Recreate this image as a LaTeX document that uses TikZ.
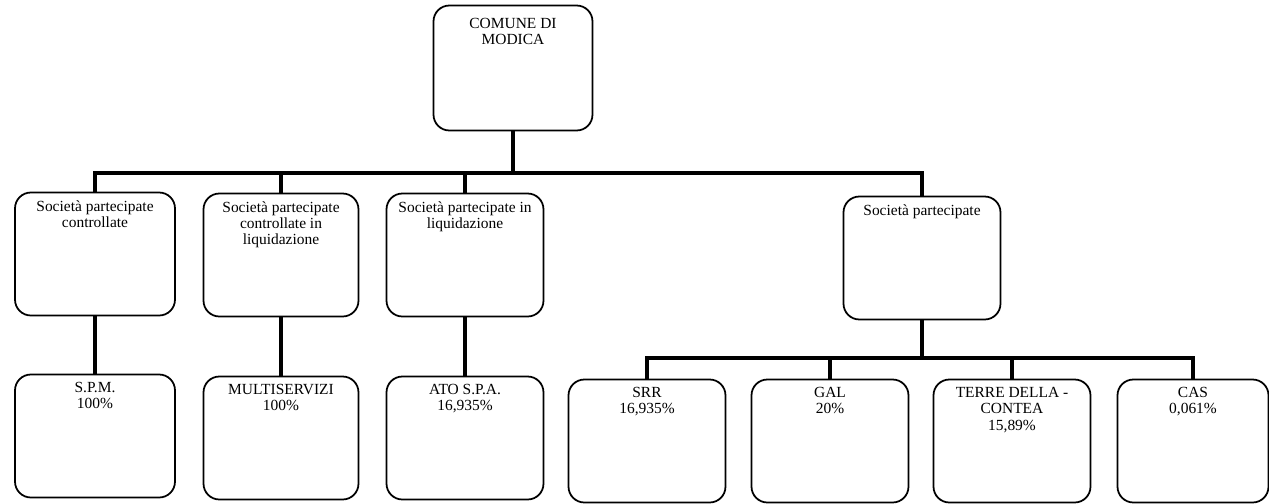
\documentclass[tikz,border=0pt]{standalone}
\usepackage{fontspec}
\setmainfont{Liberation Serif}
\begin{document}
\begin{tikzpicture}[x=0.02cm,y=-0.02cm]
\tikzset{
    box/.style={draw, line width=1pt, rounded corners=9pt, inner sep=0pt,
        minimum width=3.14cm, minimum height=2.46cm},
    boxtext/.style={anchor=north, inner sep=0pt, yshift=-0.17cm, align=center,
        font=\fontsize{8.8}{9.2}\selectfont},
    link/.style={line width=2.2pt}}
\useasboundingbox (0,0) rectangle (1269,504);

% top
\node[box, minimum width=3.18cm, minimum height=2.5cm] (comune) at (513,68) {};
\node[boxtext, yshift=-0.09cm] (comunetxt) at (comune.north) {COMUNE DI\\MODICA};

% second row
\node[box, minimum width=3.2cm] (contr) at (95,254) {};
\node[box, minimum width=3.1cm] (contrliq) at (281,255) {};
\node[box] (liq) at (465,255) {};
\node[box] (part) at (922,258) {};
\node[boxtext] (contrtxt) at (contr.north) {Società partecipate\\controllate};
\node[boxtext] (contrliqtxt) at (contrliq.north) {Società partecipate\\controllate in\\liquidazione};
\node[boxtext] (liqtxt) at (liq.north) {Società partecipate in\\liquidazione};
\node[boxtext] (parttxt) at (part.north) {Società partecipate};

% third row, left
\node[box, minimum width=3.2cm] (spm) at (95,436) {};
\node[box, minimum width=3.1cm] (multi) at (281,438) {};
\node[box] (ato) at (465,438) {};
\node[boxtext] (spmtxt) at (spm.north) {S.P.M.\\100\%};
\node[boxtext] (multitxt) at (multi.north) {MULTISERVIZI\\100\%};
\node[boxtext] (atotxt) at (ato.north) {ATO S.P.A.\\16,935\%};

% third row, right
\node[box] (srr) at (647,441) {};
\node[box] (gal) at (830,441) {};
\node[box] (terre) at (1012,441) {};
\node[box, minimum width=3.02cm] (cas) at (1193,441) {};
\node[boxtext] (srrtxt) at (srr.north) {SRR\\16,935\%};
\node[boxtext] (galtxt) at (gal.north) {GAL\\20\%};
\node[boxtext] (terretxt) at (terre.north) {TERRE DELLA -\\CONTEA\\15,89\%};
\node[boxtext] (castxt) at (cas.north) {CAS\\0,061\%};

% connectors
\coordinate (bustop) at (513,173);
\coordinate (busright) at (922,358);
\draw[link] (comune.south) -- (bustop);
\foreach \n in {contr,contrliq,liq,part}{
    \draw[link] (bustop) -| (\n.north);
}
\draw[link] (contr.south) -- (spm.north);
\draw[link] (contrliq.south) -- (multi.north);
\draw[link] (liq.south) -- (ato.north);
\draw[link] (part.south) -- (busright);
\foreach \n in {srr,gal,terre,cas}{
    \draw[link] (busright) -| (\n.north);
}
\end{tikzpicture}
\end{document}
